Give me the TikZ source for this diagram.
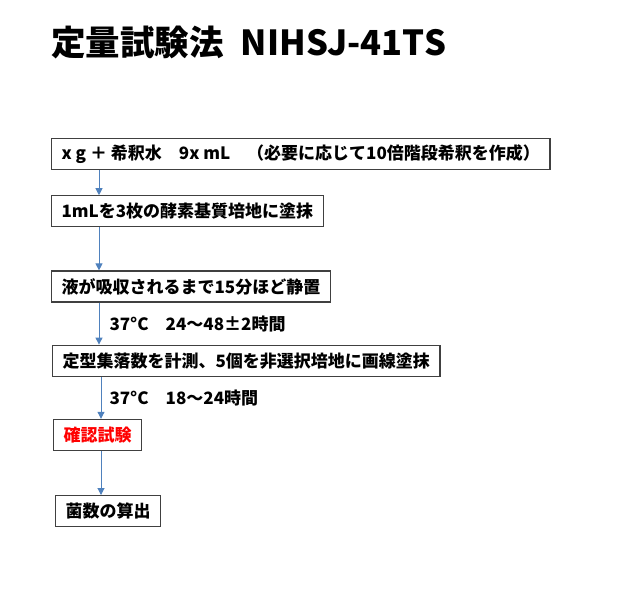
\documentclass[tikz,border=0pt]{standalone}
\usepackage{fontspec}
\setmainfont{Noto Sans CJK JP}
\usepackage{tikz}
\usetikzlibrary{positioning, arrows.meta}
\definecolor{flowblue}{RGB}{79,129,189}
\definecolor{boxgray}{RGB}{64,64,64}

\begin{document}
\begin{tikzpicture}[x=1pt, y=1pt, font=\bfseries\fontsize{17pt}{20pt}\selectfont,
    every node/.style={inner sep=0pt},
    stepbox/.style={draw=boxgray, line width=1.2pt, anchor=north west, inner xsep=10pt, minimum height=31pt},
    flow/.style={draw=flowblue, line width=1pt, -{Triangle[length=7pt,width=7pt]}}]
    \useasboundingbox (0,0) rectangle (644,-606);
    \node[anchor=base west, font=\bfseries\fontsize{34.5pt}{38pt}\selectfont] (title) at (51,-55) {定量試験法\hspace{0.5em}NIHSJ-41TS};

    \node[stepbox] (s1) at (51,-138)                                    {x g ＋ 希釈水　9x mL　（必要に応じて10倍階段希釈を作成）};
    \node[stepbox] (s2) [below=25pt of s1.south west, anchor=north west] {1mLを3枚の酵素基質培地に塗抹};
    \node[stepbox] (s3) [below=43pt of s2.south west, anchor=north west] {液が吸収されるまで15分ほど静置};
    \node[stepbox] (s4) [below=42pt of s3.south west, anchor=north west, xshift=1pt] {定型集落数を計測、5個を非選択培地に画線塗抹};
    %確認
    \node[stepbox, text=red] (s5) [below=42pt of s4.south west, anchor=north west, xshift=1pt] {確認試験};
    \node[stepbox] (s6) [below=44pt of s5.south west, anchor=north west, xshift=2pt] {菌数の算出};

    \draw[flow] ([xshift=48pt]s1.south west) -- ([xshift=48pt]s1.south west |- s2.north);
    \draw[flow] ([xshift=48pt]s2.south west) -- ([xshift=48pt]s2.south west |- s3.north);
    \draw[flow] ([xshift=48pt]s3.south west) -- node[right=10pt] {37°C　24～48±2時間} ([xshift=48pt]s3.south west |- s4.north);
    \draw[flow] ([xshift=49pt]s4.south west) -- node[right=8pt] {37°C　18～24時間} ([xshift=49pt]s4.south west |- s5.north);
    \draw[flow] ([xshift=48pt]s5.south west) -- ([xshift=48pt]s5.south west |- s6.north);
\end{tikzpicture}
\end{document}
